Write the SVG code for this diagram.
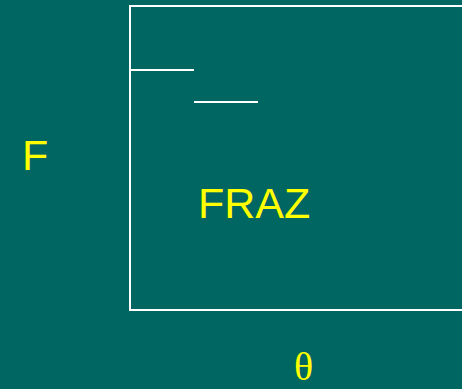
<svg xmlns="http://www.w3.org/2000/svg" width="462" height="389" viewBox="0 0 462 389">
<style>
.ln{stroke:#ffffff;stroke-width:2;fill:none}
.lbl{fill:#ffff00;font-family:"Liberation Sans",Arial,sans-serif;font-size:43px}
.sym{fill:#ffff00;font-family:"Liberation Serif","Times New Roman",serif;font-size:40px}
</style>
<rect width="462" height="389" fill="#006661"/>
<g id="connectors">
<path class="ln" d="M462 6 H130 V310 H462"/>
<path class="ln" d="M130 70 H194"/>
<path class="ln" d="M194 102 H258"/>
</g>
<g id="label-F"><text class="lbl" x="22" y="170">F</text></g>
<g id="label-FRAZ"><text class="lbl" x="198" y="218">FRAZ</text></g>
<g id="label-theta"><text class="sym" x="294" y="380">θ</text></g>
</svg>
